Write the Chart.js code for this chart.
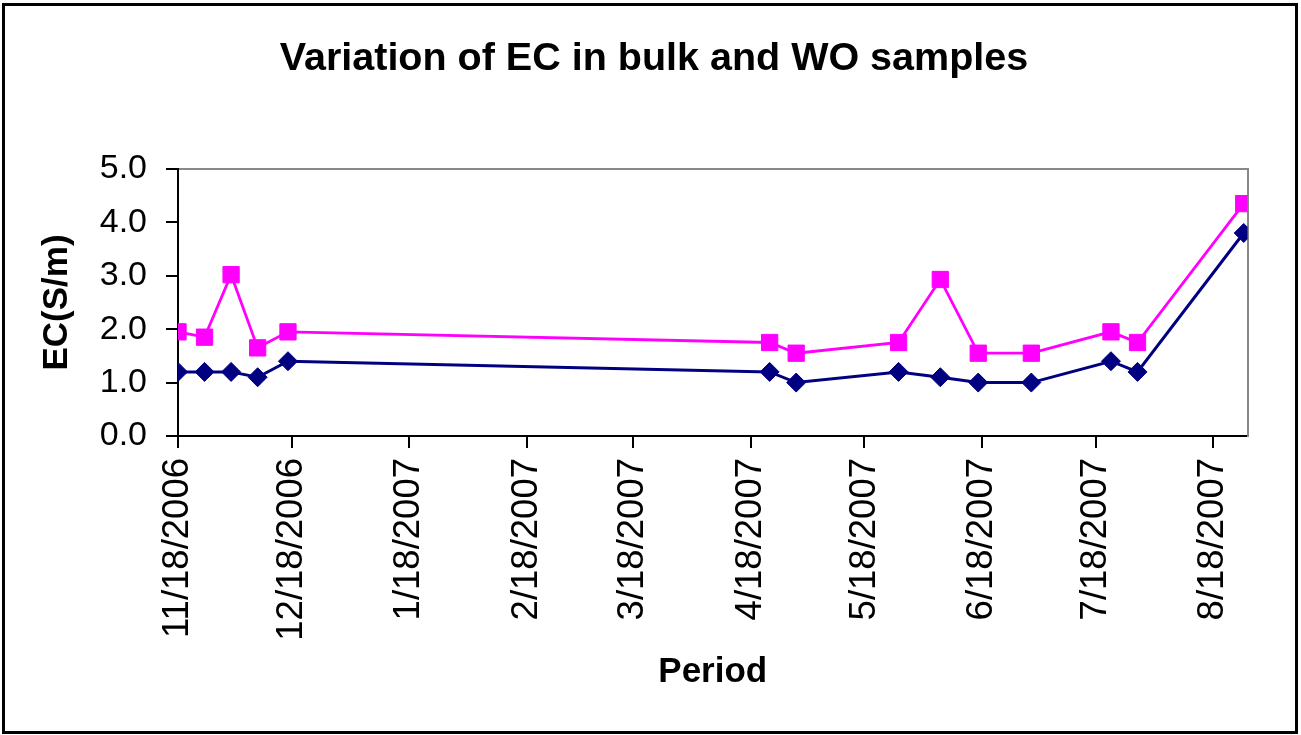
<!DOCTYPE html>
<html><head><meta charset="utf-8">
<script src="https://cdn.jsdelivr.net/npm/chart.js@4.4.1/dist/chart.umd.min.js"></script>
<style>html,body{margin:0;padding:0;background:#fff;}</style>
</head><body>
<canvas id="c" width="1301" height="735"></canvas>
<script>
const sampleDates = ["2006-11-18","2006-11-25","2006-12-02","2006-12-09","2006-12-17","2007-04-23","2007-04-30","2007-05-27","2007-06-07","2007-06-17","2007-07-01","2007-07-22","2007-07-29","2007-08-26"];
const bulkEC = [1.2,1.2,1.2,1.1,1.4,1.2,1.0,1.2,1.1,1.0,1.0,1.4,1.2,3.8];
const woEC = [1.95,1.85,3.02,1.65,1.95,1.75,1.55,1.75,2.93,1.55,1.55,1.95,1.75,4.35];
const tickDates = ["2006-11-18","2006-12-18","2007-01-18","2007-02-18","2007-03-18","2007-04-18","2007-05-18","2007-06-18","2007-07-18","2007-08-18"];
const axisStart = "2006-11-18";
const axisEnd = "2007-08-27";
const yTicks = [0,1,2,3,4,5];

function dayNum(s){const p=s.split('-').map(Number);const q=axisStart.split('-').map(Number);return Math.round((Date.UTC(p[0],p[1]-1,p[2])-Date.UTC(q[0],q[1]-1,q[2]))/86400000);}
function fmt(s){const p=s.split('-').map(Number);return p[1]+'/'+p[2]+'/'+p[0];}
const tickMap = {};
tickDates.forEach(d=>{tickMap[dayNum(d)]=fmt(d);});

const FONT = "'Liberation Sans', Arial, sans-serif";
const frame = {
  id:'frame',
  beforeDraw(chart){
    const ctx=chart.ctx;ctx.save();
    ctx.fillStyle='#fff';ctx.fillRect(0,0,chart.width,chart.height);
    ctx.strokeStyle='#000';ctx.lineWidth=3;ctx.strokeRect(3.5,4.5,1293,728);
    ctx.restore();
  }
};

new Chart(document.getElementById('c'),{
  type:'line',
  data:{datasets:[
    {label:'bulk',data:sampleDates.map((d,i)=>({x:dayNum(d),y:bulkEC[i]})),borderColor:'#000080',backgroundColor:'#000080',borderWidth:3,pointStyle:'rectRot',pointRadius:9.5,pointBorderWidth:1,tension:0},
    {label:'WO',data:sampleDates.map((d,i)=>({x:dayNum(d),y:woEC[i]})),borderColor:'#FF00FF',backgroundColor:'#FF00FF',borderWidth:2.8,pointStyle:'rect',pointRadius:11.5,pointBorderWidth:1,tension:0}
  ]},
  options:{
    responsive:false,animation:false,
    layout:{padding:{left:10,right:3,top:0,bottom:10}},
    plugins:{
      legend:{display:false},tooltip:{enabled:false},
      title:{display:true,text:'Variation of EC in bulk and WO samples',color:'#000',font:{family:FONT,size:39.5,weight:'bold',lineHeight:1.2},padding:{top:35,bottom:85.5}}
    },
    scales:{
      x:{type:'linear',position:'bottom',min:0,max:dayNum(axisEnd),
        afterBuildTicks(s){s.ticks=tickDates.map(d=>({value:dayNum(d)}));},
        afterFit(s){s.height=289;},
        ticks:{autoSkip:false,minRotation:90,maxRotation:90,padding:10,color:'#000',font:{family:FONT,size:36.5},callback:(v)=>tickMap[v]||''},
        grid:{display:true,drawOnChartArea:false,drawTicks:true,tickLength:12,color:'#000',lineWidth:2},
        border:{display:true,color:'#000',width:2},
        title:{display:true,text:'Period',color:'#000',font:{family:FONT,size:35,weight:'bold',lineHeight:1.2},padding:{top:0,bottom:32}}
      },
      x2:{type:'linear',position:'top',min:0,max:dayNum(axisEnd),
        afterFit(s){s.height=1;},
        ticks:{display:false},grid:{display:false},border:{display:true,color:'#888',width:2}
      },
      y:{type:'linear',position:'left',min:0,max:5,
        afterBuildTicks(s){s.ticks=yTicks.map(v=>({value:v}));},
        afterFit(s){s.width=168;},
        ticks:{padding:19,color:'#000',font:{family:FONT,size:34},callback:(v)=>Number(v).toFixed(1)},
        grid:{display:true,drawOnChartArea:false,drawTicks:true,tickLength:12,color:'#000',lineWidth:2},
        border:{display:true,color:'#000',width:2},
        title:{display:true,text:'EC(S/m)',color:'#000',font:{family:FONT,size:35,weight:'bold',lineHeight:1.2},padding:{top:26.5,bottom:0}}
      },
      y2:{type:'linear',position:'right',min:0,max:5,
        afterFit(s){s.width=50.5;},
        ticks:{display:false},grid:{display:false},border:{display:true,color:'#888',width:2}
      }
    }
  },
  plugins:[frame]
});
</script>
</body></html>
